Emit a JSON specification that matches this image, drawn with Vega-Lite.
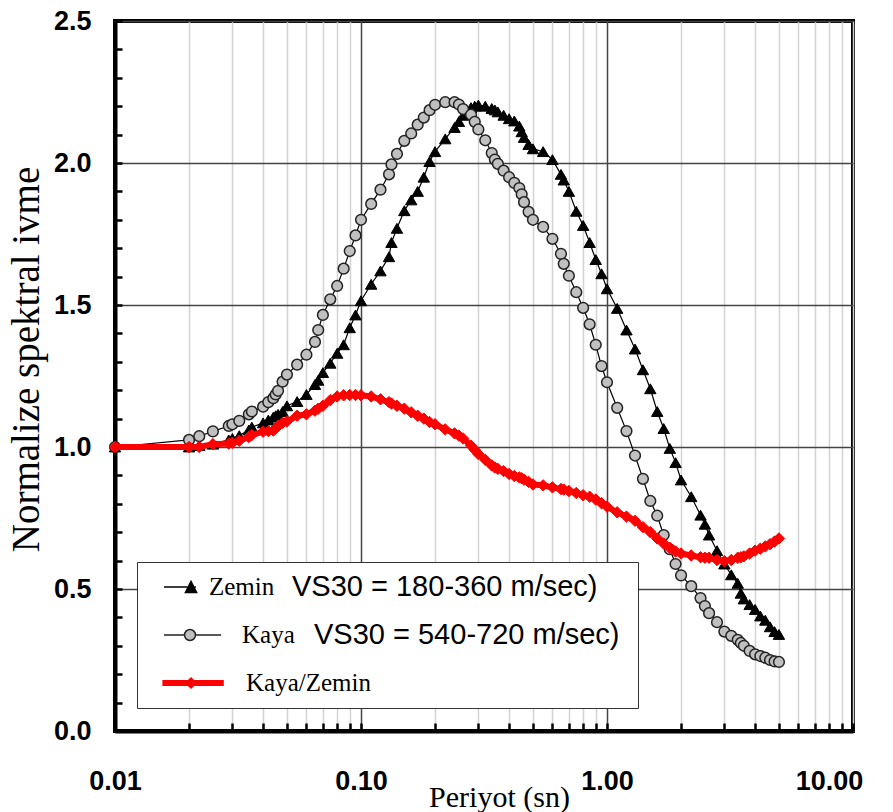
{
  "$schema": "https://vega.github.io/schema/vega-lite/v6.json",
  "width": 738,
  "height": 710,
  "autosize": {"type": "none"},
  "padding": {"left": 115, "top": 21, "right": 40, "bottom": 81},
  "background": "white",
  "config": {
    "view": {"stroke": "black", "strokeWidth": 4},
    "font": "Liberation Sans"
  },
  "data": {
    "values": [
      {"series":"Zemin","period":0.01,"value":1.0},{"series":"Zemin","period":0.02,"value":1.0},{"series":"Zemin","period":0.022,"value":1.005},{"series":"Zemin","period":0.025,"value":1.01},{"series":"Zemin","period":0.029,"value":1.025},{"series":"Zemin","period":0.03,"value":1.03},{"series":"Zemin","period":0.032,"value":1.04},{"series":"Zemin","period":0.035,"value":1.06},{"series":"Zemin","period":0.036,"value":1.07},{"series":"Zemin","period":0.04,"value":1.085},{"series":"Zemin","period":0.042,"value":1.095},{"series":"Zemin","period":0.044,"value":1.105},{"series":"Zemin","period":0.045,"value":1.11},{"series":"Zemin","period":0.046,"value":1.115},{"series":"Zemin","period":0.048,"value":1.125},{"series":"Zemin","period":0.05,"value":1.145},{"series":"Zemin","period":0.055,"value":1.16},{"series":"Zemin","period":0.06,"value":1.185},{"series":"Zemin","period":0.065,"value":1.22},{"series":"Zemin","period":0.067,"value":1.235},{"series":"Zemin","period":0.07,"value":1.262},{"series":"Zemin","period":0.075,"value":1.295},{"series":"Zemin","period":0.08,"value":1.33},{"series":"Zemin","period":0.085,"value":1.36},{"series":"Zemin","period":0.09,"value":1.42},{"series":"Zemin","period":0.095,"value":1.465},{"series":"Zemin","period":0.1,"value":1.515},{"series":"Zemin","period":0.11,"value":1.573},{"series":"Zemin","period":0.12,"value":1.62},{"series":"Zemin","period":0.13,"value":1.67},{"series":"Zemin","period":0.133,"value":1.72},{"series":"Zemin","period":0.14,"value":1.77},{"series":"Zemin","period":0.15,"value":1.832},{"series":"Zemin","period":0.16,"value":1.87},{"series":"Zemin","period":0.17,"value":1.9},{"series":"Zemin","period":0.18,"value":1.95},{"series":"Zemin","period":0.19,"value":2.005},{"series":"Zemin","period":0.2,"value":2.04},{"series":"Zemin","period":0.22,"value":2.085},{"series":"Zemin","period":0.24,"value":2.125},{"series":"Zemin","period":0.25,"value":2.146},{"series":"Zemin","period":0.26,"value":2.168},{"series":"Zemin","period":0.28,"value":2.195},{"series":"Zemin","period":0.29,"value":2.2},{"series":"Zemin","period":0.3,"value":2.204},{"series":"Zemin","period":0.32,"value":2.2},{"series":"Zemin","period":0.34,"value":2.192},{"series":"Zemin","period":0.35,"value":2.187},{"series":"Zemin","period":0.36,"value":2.18},{"series":"Zemin","period":0.38,"value":2.168},{"series":"Zemin","period":0.4,"value":2.156},{"series":"Zemin","period":0.42,"value":2.148},{"series":"Zemin","period":0.44,"value":2.13},{"series":"Zemin","period":0.45,"value":2.11},{"series":"Zemin","period":0.46,"value":2.09},{"series":"Zemin","period":0.48,"value":2.065},{"series":"Zemin","period":0.5,"value":2.05},{"series":"Zemin","period":0.55,"value":2.04},{"series":"Zemin","period":0.6,"value":2.012},{"series":"Zemin","period":0.65,"value":1.96},{"series":"Zemin","period":0.667,"value":1.94},{"series":"Zemin","period":0.7,"value":1.9},{"series":"Zemin","period":0.75,"value":1.83},{"series":"Zemin","period":0.8,"value":1.78},{"series":"Zemin","period":0.85,"value":1.72},{"series":"Zemin","period":0.9,"value":1.66},{"series":"Zemin","period":0.95,"value":1.61},{"series":"Zemin","period":1,"value":1.557},{"series":"Zemin","period":1.1,"value":1.488},{"series":"Zemin","period":1.2,"value":1.412},{"series":"Zemin","period":1.3,"value":1.345},{"series":"Zemin","period":1.4,"value":1.272},{"series":"Zemin","period":1.5,"value":1.205},{"series":"Zemin","period":1.6,"value":1.125},{"series":"Zemin","period":1.7,"value":1.065},{"series":"Zemin","period":1.8,"value":0.995},{"series":"Zemin","period":1.9,"value":0.945},{"series":"Zemin","period":2,"value":0.884},{"series":"Zemin","period":2.2,"value":0.825},{"series":"Zemin","period":2.4,"value":0.76},{"series":"Zemin","period":2.5,"value":0.728},{"series":"Zemin","period":2.6,"value":0.69},{"series":"Zemin","period":2.8,"value":0.635},{"series":"Zemin","period":3,"value":0.588},{"series":"Zemin","period":3.2,"value":0.55},{"series":"Zemin","period":3.4,"value":0.52},{"series":"Zemin","period":3.5,"value":0.485},{"series":"Zemin","period":3.6,"value":0.465},{"series":"Zemin","period":3.8,"value":0.445},{"series":"Zemin","period":4,"value":0.428},{"series":"Zemin","period":4.2,"value":0.405},{"series":"Zemin","period":4.4,"value":0.39},{"series":"Zemin","period":4.6,"value":0.367},{"series":"Zemin","period":4.8,"value":0.35},{"series":"Zemin","period":5,"value":0.34},
      {"series":"Kaya","period":0.01,"value":1.0},{"series":"Kaya","period":0.02,"value":1.025},{"series":"Kaya","period":0.022,"value":1.038},{"series":"Kaya","period":0.025,"value":1.055},{"series":"Kaya","period":0.029,"value":1.074},{"series":"Kaya","period":0.03,"value":1.08},{"series":"Kaya","period":0.032,"value":1.092},{"series":"Kaya","period":0.035,"value":1.115},{"series":"Kaya","period":0.036,"value":1.125},{"series":"Kaya","period":0.04,"value":1.142},{"series":"Kaya","period":0.042,"value":1.158},{"series":"Kaya","period":0.044,"value":1.172},{"series":"Kaya","period":0.045,"value":1.185},{"series":"Kaya","period":0.046,"value":1.198},{"series":"Kaya","period":0.048,"value":1.23},{"series":"Kaya","period":0.05,"value":1.255},{"series":"Kaya","period":0.055,"value":1.29},{"series":"Kaya","period":0.06,"value":1.325},{"series":"Kaya","period":0.065,"value":1.37},{"series":"Kaya","period":0.067,"value":1.412},{"series":"Kaya","period":0.07,"value":1.465},{"series":"Kaya","period":0.075,"value":1.52},{"series":"Kaya","period":0.08,"value":1.567},{"series":"Kaya","period":0.085,"value":1.628},{"series":"Kaya","period":0.09,"value":1.69},{"series":"Kaya","period":0.095,"value":1.745},{"series":"Kaya","period":0.1,"value":1.8},{"series":"Kaya","period":0.11,"value":1.856},{"series":"Kaya","period":0.12,"value":1.906},{"series":"Kaya","period":0.13,"value":1.96},{"series":"Kaya","period":0.133,"value":1.995},{"series":"Kaya","period":0.14,"value":2.032},{"series":"Kaya","period":0.15,"value":2.078},{"series":"Kaya","period":0.16,"value":2.104},{"series":"Kaya","period":0.17,"value":2.135},{"series":"Kaya","period":0.18,"value":2.16},{"series":"Kaya","period":0.19,"value":2.186},{"series":"Kaya","period":0.2,"value":2.205},{"series":"Kaya","period":0.22,"value":2.214},{"series":"Kaya","period":0.24,"value":2.214},{"series":"Kaya","period":0.25,"value":2.206},{"series":"Kaya","period":0.26,"value":2.19},{"series":"Kaya","period":0.28,"value":2.17},{"series":"Kaya","period":0.29,"value":2.145},{"series":"Kaya","period":0.3,"value":2.118},{"series":"Kaya","period":0.32,"value":2.08},{"series":"Kaya","period":0.34,"value":2.035},{"series":"Kaya","period":0.35,"value":2.012},{"series":"Kaya","period":0.36,"value":1.997},{"series":"Kaya","period":0.38,"value":1.973},{"series":"Kaya","period":0.4,"value":1.95},{"series":"Kaya","period":0.42,"value":1.93},{"series":"Kaya","period":0.44,"value":1.912},{"series":"Kaya","period":0.45,"value":1.89},{"series":"Kaya","period":0.46,"value":1.862},{"series":"Kaya","period":0.48,"value":1.828},{"series":"Kaya","period":0.5,"value":1.8},{"series":"Kaya","period":0.55,"value":1.775},{"series":"Kaya","period":0.6,"value":1.733},{"series":"Kaya","period":0.65,"value":1.68},{"series":"Kaya","period":0.667,"value":1.645},{"series":"Kaya","period":0.7,"value":1.603},{"series":"Kaya","period":0.75,"value":1.545},{"series":"Kaya","period":0.8,"value":1.49},{"series":"Kaya","period":0.85,"value":1.432},{"series":"Kaya","period":0.9,"value":1.36},{"series":"Kaya","period":0.95,"value":1.285},{"series":"Kaya","period":1,"value":1.228},{"series":"Kaya","period":1.1,"value":1.138},{"series":"Kaya","period":1.2,"value":1.056},{"series":"Kaya","period":1.3,"value":0.97},{"series":"Kaya","period":1.4,"value":0.888},{"series":"Kaya","period":1.5,"value":0.81},{"series":"Kaya","period":1.6,"value":0.758},{"series":"Kaya","period":1.7,"value":0.69},{"series":"Kaya","period":1.8,"value":0.64},{"series":"Kaya","period":1.9,"value":0.588},{"series":"Kaya","period":2,"value":0.548},{"series":"Kaya","period":2.2,"value":0.51},{"series":"Kaya","period":2.4,"value":0.468},{"series":"Kaya","period":2.5,"value":0.44},{"series":"Kaya","period":2.6,"value":0.415},{"series":"Kaya","period":2.8,"value":0.383},{"series":"Kaya","period":3,"value":0.35},{"series":"Kaya","period":3.2,"value":0.335},{"series":"Kaya","period":3.4,"value":0.321},{"series":"Kaya","period":3.5,"value":0.31},{"series":"Kaya","period":3.6,"value":0.3},{"series":"Kaya","period":3.8,"value":0.282},{"series":"Kaya","period":4,"value":0.27},{"series":"Kaya","period":4.2,"value":0.264},{"series":"Kaya","period":4.4,"value":0.258},{"series":"Kaya","period":4.6,"value":0.25},{"series":"Kaya","period":4.8,"value":0.245},{"series":"Kaya","period":5,"value":0.243},
      {"series":"Kaya/Zemin","period":0.01,"value":1.0},{"series":"Kaya/Zemin","period":0.02,"value":1.0},{"series":"Kaya/Zemin","period":0.022,"value":1.0},{"series":"Kaya/Zemin","period":0.025,"value":1.01},{"series":"Kaya/Zemin","period":0.029,"value":1.012},{"series":"Kaya/Zemin","period":0.03,"value":1.015},{"series":"Kaya/Zemin","period":0.032,"value":1.022},{"series":"Kaya/Zemin","period":0.035,"value":1.035},{"series":"Kaya/Zemin","period":0.036,"value":1.042},{"series":"Kaya/Zemin","period":0.04,"value":1.054},{"series":"Kaya/Zemin","period":0.042,"value":1.056},{"series":"Kaya/Zemin","period":0.044,"value":1.058},{"series":"Kaya/Zemin","period":0.045,"value":1.065},{"series":"Kaya/Zemin","period":0.046,"value":1.075},{"series":"Kaya/Zemin","period":0.048,"value":1.085},{"series":"Kaya/Zemin","period":0.05,"value":1.09},{"series":"Kaya/Zemin","period":0.055,"value":1.11},{"series":"Kaya/Zemin","period":0.06,"value":1.115},{"series":"Kaya/Zemin","period":0.065,"value":1.128},{"series":"Kaya/Zemin","period":0.067,"value":1.135},{"series":"Kaya/Zemin","period":0.07,"value":1.145},{"series":"Kaya/Zemin","period":0.075,"value":1.165},{"series":"Kaya/Zemin","period":0.08,"value":1.178},{"series":"Kaya/Zemin","period":0.085,"value":1.182},{"series":"Kaya/Zemin","period":0.09,"value":1.183},{"series":"Kaya/Zemin","period":0.095,"value":1.183},{"series":"Kaya/Zemin","period":0.1,"value":1.182},{"series":"Kaya/Zemin","period":0.11,"value":1.178},{"series":"Kaya/Zemin","period":0.12,"value":1.168},{"series":"Kaya/Zemin","period":0.13,"value":1.158},{"series":"Kaya/Zemin","period":0.133,"value":1.153},{"series":"Kaya/Zemin","period":0.14,"value":1.145},{"series":"Kaya/Zemin","period":0.15,"value":1.135},{"series":"Kaya/Zemin","period":0.16,"value":1.122},{"series":"Kaya/Zemin","period":0.17,"value":1.11},{"series":"Kaya/Zemin","period":0.18,"value":1.1},{"series":"Kaya/Zemin","period":0.19,"value":1.088},{"series":"Kaya/Zemin","period":0.2,"value":1.08},{"series":"Kaya/Zemin","period":0.22,"value":1.062},{"series":"Kaya/Zemin","period":0.24,"value":1.048},{"series":"Kaya/Zemin","period":0.25,"value":1.04},{"series":"Kaya/Zemin","period":0.26,"value":1.03},{"series":"Kaya/Zemin","period":0.28,"value":1.005},{"series":"Kaya/Zemin","period":0.29,"value":0.99},{"series":"Kaya/Zemin","period":0.3,"value":0.975},{"series":"Kaya/Zemin","period":0.32,"value":0.955},{"series":"Kaya/Zemin","period":0.34,"value":0.935},{"series":"Kaya/Zemin","period":0.35,"value":0.928},{"series":"Kaya/Zemin","period":0.36,"value":0.923},{"series":"Kaya/Zemin","period":0.38,"value":0.915},{"series":"Kaya/Zemin","period":0.4,"value":0.905},{"series":"Kaya/Zemin","period":0.42,"value":0.898},{"series":"Kaya/Zemin","period":0.44,"value":0.893},{"series":"Kaya/Zemin","period":0.45,"value":0.89},{"series":"Kaya/Zemin","period":0.46,"value":0.885},{"series":"Kaya/Zemin","period":0.48,"value":0.877},{"series":"Kaya/Zemin","period":0.5,"value":0.868},{"series":"Kaya/Zemin","period":0.55,"value":0.865},{"series":"Kaya/Zemin","period":0.6,"value":0.858},{"series":"Kaya/Zemin","period":0.65,"value":0.852},{"series":"Kaya/Zemin","period":0.667,"value":0.85},{"series":"Kaya/Zemin","period":0.7,"value":0.845},{"series":"Kaya/Zemin","period":0.75,"value":0.838},{"series":"Kaya/Zemin","period":0.8,"value":0.83},{"series":"Kaya/Zemin","period":0.85,"value":0.825},{"series":"Kaya/Zemin","period":0.9,"value":0.815},{"series":"Kaya/Zemin","period":0.95,"value":0.802},{"series":"Kaya/Zemin","period":1,"value":0.79},{"series":"Kaya/Zemin","period":1.1,"value":0.77},{"series":"Kaya/Zemin","period":1.2,"value":0.755},{"series":"Kaya/Zemin","period":1.3,"value":0.74},{"series":"Kaya/Zemin","period":1.4,"value":0.718},{"series":"Kaya/Zemin","period":1.5,"value":0.7},{"series":"Kaya/Zemin","period":1.6,"value":0.678},{"series":"Kaya/Zemin","period":1.7,"value":0.66},{"series":"Kaya/Zemin","period":1.8,"value":0.645},{"series":"Kaya/Zemin","period":1.9,"value":0.632},{"series":"Kaya/Zemin","period":2,"value":0.625},{"series":"Kaya/Zemin","period":2.2,"value":0.618},{"series":"Kaya/Zemin","period":2.4,"value":0.612},{"series":"Kaya/Zemin","period":2.5,"value":0.61},{"series":"Kaya/Zemin","period":2.6,"value":0.61},{"series":"Kaya/Zemin","period":2.8,"value":0.602},{"series":"Kaya/Zemin","period":3,"value":0.598},{"series":"Kaya/Zemin","period":3.2,"value":0.602},{"series":"Kaya/Zemin","period":3.4,"value":0.61},{"series":"Kaya/Zemin","period":3.5,"value":0.612},{"series":"Kaya/Zemin","period":3.6,"value":0.615},{"series":"Kaya/Zemin","period":3.8,"value":0.625},{"series":"Kaya/Zemin","period":4,"value":0.635},{"series":"Kaya/Zemin","period":4.2,"value":0.642},{"series":"Kaya/Zemin","period":4.4,"value":0.65},{"series":"Kaya/Zemin","period":4.6,"value":0.658},{"series":"Kaya/Zemin","period":4.8,"value":0.667},{"series":"Kaya/Zemin","period":5,"value":0.678}
    ]
  },
  "encoding": {
    "x": {
      "field": "period", "type": "quantitative",
      "scale": {"type": "log", "domain": [0.01, 10]},
      "axis": {
        "values": [0.01,0.02,0.03,0.04,0.05,0.06,0.07,0.08,0.09,0.1,0.2,0.3,0.4,0.5,0.6,0.7,0.8,0.9,1,2,3,4,5,6,7,8,9,10],
        "grid": true,
        "gridColor": {"condition": {"test": "datum.value == 0.1 || datum.value == 1", "value": "#444444"}, "value": "#d3d3d3"},
        "gridWidth": 1.5,
        "domainColor": "black", "domainWidth": 4,
        "ticks": true, "tickColor": "black", "tickWidth": 2.5, "tickSize": -8,
        "labelExpr": "(datum.value == 0.01 || datum.value == 0.1 || datum.value == 1 || datum.value == 10) ? format(datum.value, '.2f') : ''",
        "labelFont": "Liberation Sans", "labelFontWeight": "bold", "labelFontSize": 27, "labelColor": "black",
        "labelPadding": 45, "labelBaseline": "top", "labelOverlap": false, "labelBound": false, "labelFlush": false,
        "labelOffset": {"condition": {"test": "datum.value == 10", "value": -24}, "value": 0},
        "title": "Periyot (sn)", "titleFont": "Liberation Serif", "titleFontWeight": "normal", "titleFontSize": 30,
        "titleColor": "black", "titleX": 384, "titleY": 75, "titleBaseline": "alphabetic", "titleAlign": "center"
      }
    },
    "y": {
      "field": "value", "type": "quantitative",
      "scale": {"domain": [0, 2.5], "nice": false},
      "axis": {
        "values": [0,0.1,0.2,0.3,0.4,0.5,0.6,0.7,0.8,0.9,1,1.1,1.2,1.3,1.4,1.5,1.6,1.7,1.8,1.9,2,2.1,2.2,2.3,2.4,2.5],
        "grid": true,
        "gridColor": {"condition": {"test": "abs(datum.value*2 - round(datum.value*2)) < 0.000001", "value": "#444444"}, "value": "rgba(0,0,0,0)"},
        "gridWidth": 1.5,
        "domainColor": "black", "domainWidth": 4,
        "ticks": true, "tickColor": "black", "tickWidth": 2.5, "tickSize": -7,
        "labelExpr": "abs(datum.value*2 - round(datum.value*2)) < 0.000001 ? format(datum.value, '.1f') : ''",
        "labelFont": "Liberation Sans", "labelFontWeight": "bold", "labelFontSize": 27, "labelColor": "black",
        "labelPadding": 31, "labelOverlap": false, "labelBound": false, "labelFlush": false,
        "title": "Normalize spektral ivme", "titleFont": "Liberation Serif", "titleFontWeight": "normal", "titleFontSize": 39,
        "titleColor": "black", "titleX": -89, "titleY": 338, "titleAngle": -90, "titleBaseline": "middle", "titleAlign": "center"
      }
    }
  },
  "layer": [
    {"transform": [{"filter": "datum.series == 'Zemin'"}], "mark": {"type": "line", "color": "black", "strokeWidth": 1.2}},
    {"transform": [{"filter": "datum.series == 'Zemin'"}], "mark": {"type": "point", "shape": "triangle-up", "filled": true, "fill": "black", "stroke": "black", "strokeWidth": 1, "size": 130, "opacity": 1}},
    {"transform": [{"filter": "datum.series == 'Kaya'"}], "mark": {"type": "line", "color": "black", "strokeWidth": 1.2}},
    {"transform": [{"filter": "datum.series == 'Kaya'"}], "mark": {"type": "point", "shape": "circle", "filled": true, "fill": "#c0c0c0", "stroke": "#222222", "strokeWidth": 1.5, "size": 115, "opacity": 1}},
    {"transform": [{"filter": "datum.series == 'Kaya/Zemin'"}], "mark": {"type": "line", "color": "#ff0000", "strokeWidth": 6}},
    {"transform": [{"filter": "datum.series == 'Kaya/Zemin'"}], "mark": {"type": "point", "shape": "diamond", "filled": true, "fill": "#ff0000", "stroke": "#ff0000", "strokeWidth": 1, "size": 130, "opacity": 1}},
    {
      "transform": [{"filter": "false"}],
      "mark": {"type": "point", "filled": true, "opacity": 1},
      "encoding": {
        "shape": {"field": "series", "type": "nominal",
          "scale": {"domain": ["Zemin", "Kaya", "Kaya/Zemin"],
            "range": [
              "M-0.43,0 L0.71,0 M0.336,0.2 L0.536,-0.2 L0.736,0.2 Z",
              "M-0.43,0 L0.304,0 M0.696,0 L1.61,0 M0.304,0 A0.196,0.196 0 1 0 0.696,0 A0.196,0.196 0 1 0 0.304,0 Z",
              "M-0.46,-0.08 L1.68,-0.08 L1.68,0.08 L-0.46,0.08 Z M0.356,0 L0.536,-0.18 L0.716,0 L0.536,0.18 Z"
            ]},
          "legend": {"orient": "none", "legendX": 22, "legendY": 541, "title": null, "padding": 10, "strokeColor": "rgba(0,0,0,0)", "fillColor": "rgba(0,0,0,0)",
            "symbolSize": 3136, "symbolStrokeWidth": 1.5, "clipHeight": 30, "rowPadding": 18, "labelOffset": 7,
            "labelFont": "Liberation Serif", "labelFontSize": 25, "labelColor": "black", "labelLimit": 800, "symbolOpacity": 1, "zindex": 3,
            "encode": {"labels": {"update": {"dx": {"signal": "datum.value == 'Kaya' ? 30 : datum.value == 'Kaya/Zemin' ? 34 : -3"}}}}}
        },
        "fill": {"field": "series", "type": "nominal",
          "scale": {"domain": ["Zemin", "Kaya", "Kaya/Zemin"], "range": ["black", "#c0c0c0", "#ff0000"]},
          "legend": {"orient": "none", "legendX": 22, "legendY": 541, "title": null, "padding": 10, "strokeColor": "rgba(0,0,0,0)", "fillColor": "rgba(0,0,0,0)",
            "symbolSize": 3136, "symbolStrokeWidth": 1.5, "clipHeight": 30, "rowPadding": 18, "labelOffset": 7,
            "labelFont": "Liberation Serif", "labelFontSize": 25, "labelColor": "black", "labelLimit": 800, "symbolOpacity": 1, "zindex": 3,
            "encode": {"labels": {"update": {"dx": {"signal": "datum.value == 'Kaya' ? 30 : datum.value == 'Kaya/Zemin' ? 34 : -3"}}}}}
        },
        "stroke": {"field": "series", "type": "nominal",
          "scale": {"domain": ["Zemin", "Kaya", "Kaya/Zemin"], "range": ["black", "#222222", "#ff0000"]},
          "legend": {"orient": "none", "legendX": 22, "legendY": 541, "title": null, "padding": 10, "strokeColor": "rgba(0,0,0,0)", "fillColor": "rgba(0,0,0,0)",
            "symbolSize": 3136, "symbolStrokeWidth": 1.5, "clipHeight": 30, "rowPadding": 18, "labelOffset": 7,
            "labelFont": "Liberation Serif", "labelFontSize": 25, "labelColor": "black", "labelLimit": 800, "symbolOpacity": 1, "zindex": 3,
            "encode": {"labels": {"update": {"dx": {"signal": "datum.value == 'Kaya' ? 30 : datum.value == 'Kaya/Zemin' ? 34 : -3"}}}}}
        }
      }
    },
    {
      "transform": [{"filter": "false"}],
      "mark": {"type": "point", "filled": true},
      "encoding": {
        "color": {"field": "series", "type": "nominal",
          "scale": {"domain": ["Zemin VS30", "Kaya VS30", "none"], "range": ["black", "black", "black"]},
          "legend": {"orient": "none", "legendX": 22, "legendY": 541, "title": null, "padding": 10, "strokeColor": "#333333", "fillColor": "white",
            "symbolSize": 19600, "symbolOpacity": 0, "symbolStrokeWidth": 1.5, "clipHeight": 30, "rowPadding": 18, "labelOffset": 3,
            "labelFont": "Liberation Sans", "labelFontSize": 29, "labelColor": "black", "labelLimit": 800, "zindex": 1,
            "labelExpr": "datum.value == 'Zemin VS30' ? 'VS30 = 180-360 m/sec)' : datum.value == 'Kaya VS30' ? 'VS30 = 540-720 m/sec)\u00a0\u200b' : ''",
            "encode": {"labels": {"update": {"dx": {"signal": "datum.value == 'Kaya VS30' ? 22 : 0"}}}}}
        }
      }
    }
  ]
}
